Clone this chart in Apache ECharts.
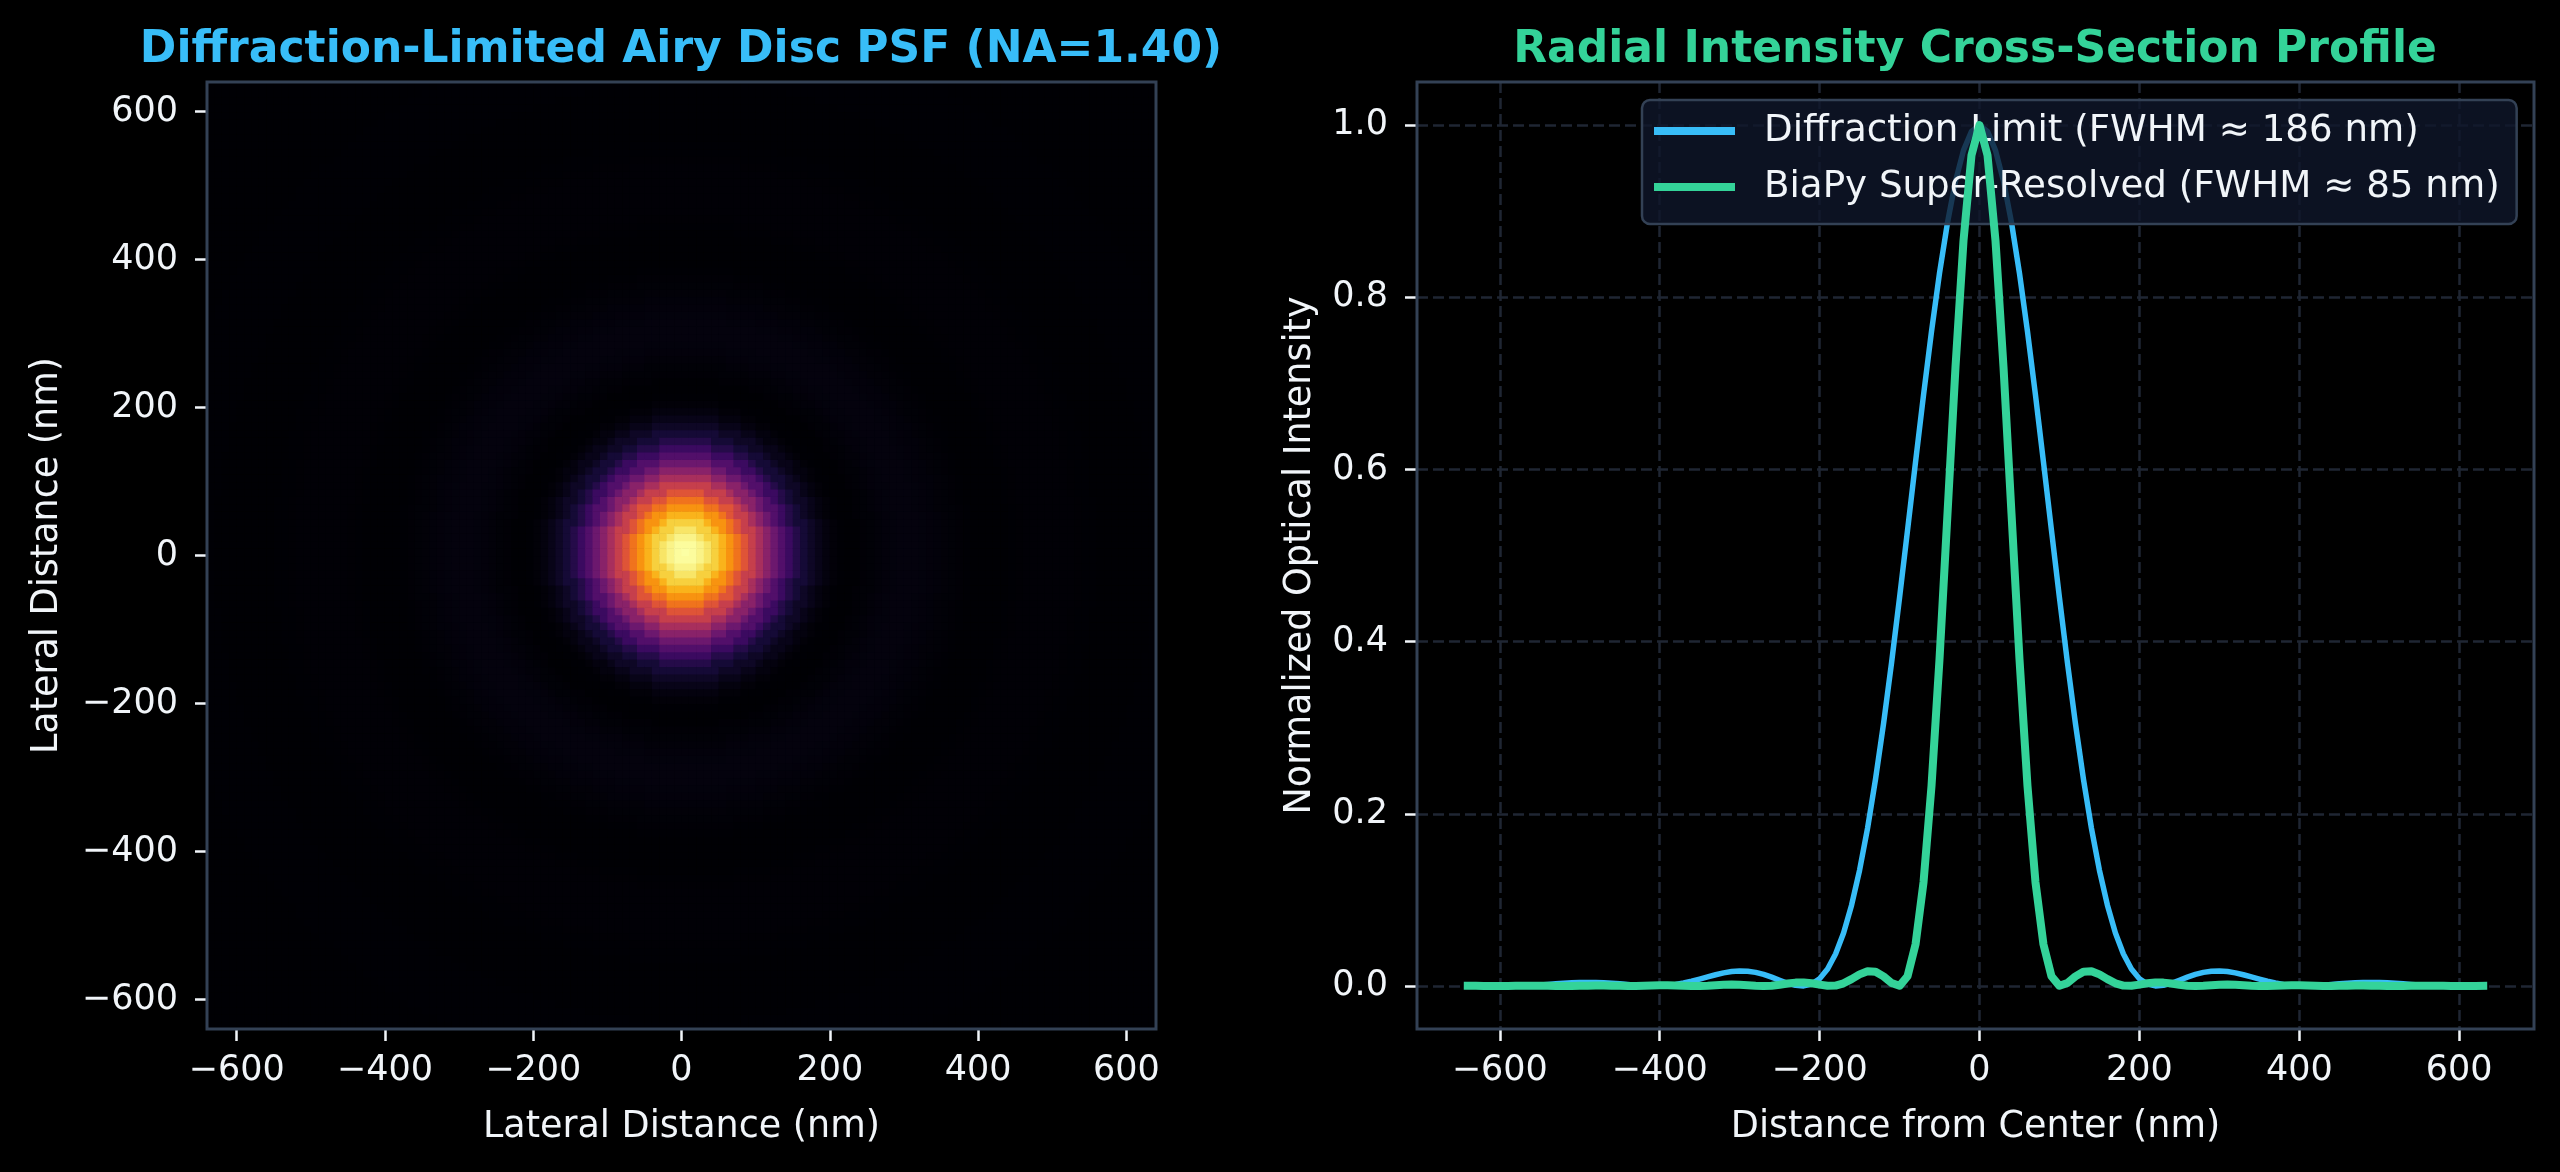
<!DOCTYPE html>
<html>
<head>
<meta charset="utf-8">
<script src="https://cdn.jsdelivr.net/npm/echarts@6/dist/echarts.min.js"></script>
<style>
html, body { margin: 0; padding: 0; background: #000000; }
#chart { width: 2560px; height: 1172px; }
</style>
</head>
<body>
<div id="chart"></div>
<script>
// ---------------- DATA ----------------
// Sample positions (nm) along the radial cross-section
const distanceNm = [-640,-630,-620,-610,-600,-590,-580,-570,-560,-550,-540,-530,-520,-510,-500,-490,-480,-470,-460,-450,-440,-430,-420,-410,-400,-390,-380,-370,-360,-350,-340,-330,-320,-310,-300,-290,-280,-270,-260,-250,-240,-230,-220,-210,-200,-190,-180,-170,-160,-150,-140,-130,-120,-110,-100,-90,-80,-70,-60,-50,-40,-30,-20,-10,0,10,20,30,40,50,60,70,80,90,100,110,120,130,140,150,160,170,180,190,200,210,220,230,240,250,260,270,280,290,300,310,320,330,340,350,360,370,380,390,400,410,420,430,440,450,460,470,480,490,500,510,520,530,540,550,560,570,580,590,600,610,620,630];

// Diffraction limit profile (FWHM ~ 186 nm)
const diffractionLimit = [
0.00109,0.00081,0.00052,0.00025,0.00008,0.00000,0.00007,0.00030,0.00068,0.00120,
0.00179,0.00245,0.00308,0.00360,0.00398,0.00415,0.00407,0.00375,0.00317,0.00246,
0.00170,0.00094,0.00034,0.00002,0.00011,0.00068,0.00178,0.00341,0.00551,0.00792,
0.01052,0.01304,0.01518,0.01672,0.01744,0.01718,0.01577,0.01338,0.01022,0.00660,
0.00319,0.00072,0.00006,0.00227,0.00844,0.01970,0.03712,0.06155,0.09379,0.13437,
0.18321,0.24033,0.30471,0.37539,0.45088,0.52934,0.60864,0.68645,0.76034,0.82786,
0.88674,0.93490,0.97062,0.99259,
1.00000,
0.99259,0.97062,0.93490,0.88674,0.82786,0.76034,0.68645,0.60864,0.52934,0.45088,
0.37539,0.30471,0.24033,0.18321,0.13437,0.09379,0.06155,0.03712,0.01970,0.00844,
0.00227,0.00006,0.00072,0.00319,0.00660,0.01022,0.01338,0.01577,0.01718,0.01744,
0.01672,0.01518,0.01304,0.01052,0.00792,0.00551,0.00341,0.00178,0.00068,0.00011,
0.00002,0.00034,0.00094,0.00170,0.00246,0.00317,0.00375,0.00407,0.00415,0.00398,
0.00360,0.00308,0.00245,0.00179,0.00120,0.00068,0.00030,0.00007,0.00000,0.00008,
0.00025,0.00052,0.00081];

// BiaPy super-resolved profile (FWHM ~ 85 nm)
const biapySuperResolved = [
0.00017,0.00014,0.00007,0.00001,0.00000,0.00005,0.00014,0.00023,0.00027,0.00023,
0.00014,0.00004,0.00000,0.00005,0.00018,0.00033,0.00043,0.00042,0.00029,0.00012,
0.00001,0.00003,0.00022,0.00048,0.00071,0.00077,0.00062,0.00033,0.00007,0.00001,
0.00027,0.00077,0.00130,0.00159,0.00146,0.00094,0.00032,0.00000,0.00034,0.00137,
0.00277,0.00388,0.00410,0.00313,0.00150,0.00016,0.00040,0.00305,0.00790,0.01344,
0.01711,0.01654,0.01108,0.00341,0.00016,0.01131,0.04829,0.12055,0.23257,0.37977,
0.54899,0.71927,0.86575,0.96492,
1.00000,
0.96492,0.86575,0.71927,0.54899,0.37977,0.23257,0.12055,0.04829,0.01131,0.00016,
0.00341,0.01108,0.01654,0.01711,0.01344,0.00790,0.00305,0.00040,0.00016,0.00150,
0.00313,0.00410,0.00388,0.00277,0.00137,0.00034,0.00000,0.00032,0.00094,0.00146,
0.00159,0.00130,0.00077,0.00027,0.00001,0.00007,0.00033,0.00062,0.00077,0.00071,
0.00048,0.00022,0.00003,0.00001,0.00012,0.00029,0.00042,0.00043,0.00033,0.00018,
0.00005,0.00000,0.00004,0.00014,0.00023,0.00027,0.00023,0.00014,0.00005,0.00000,
0.00001,0.00007,0.00014];

// Radial intensity of the diffraction-limited PSF image, radius 0..910 nm in 10 nm steps
const airyRadialProfile = [
1.00000,0.99259,0.97062,0.93490,0.88674,0.82786,0.76034,0.68645,0.60864,0.52934,
0.45088,0.37539,0.30471,0.24033,0.18321,0.13437,0.09379,0.06155,0.03712,0.01970,
0.00844,0.00227,0.00006,0.00072,0.00319,0.00660,0.01022,0.01338,0.01577,0.01718,
0.01744,0.01672,0.01518,0.01304,0.01052,0.00792,0.00551,0.00341,0.00178,0.00068,
0.00011,0.00002,0.00034,0.00094,0.00170,0.00246,0.00317,0.00375,0.00407,0.00415,
0.00398,0.00360,0.00308,0.00245,0.00179,0.00120,0.00068,0.00030,0.00007,0.00000,
0.00008,0.00025,0.00052,0.00081,0.00109,0.00134,0.00151,0.00159,0.00158,0.00148,
0.00130,0.00108,0.00082,0.00057,0.00034,0.00017,0.00005,0.00000,0.00002,0.00009,
0.00020,0.00034,0.00048,0.00061,0.00070,0.00076,0.00078,0.00075,0.00067,0.00057,
0.00045,0.00032];

// Image pixel positions (nm) of the PSF grid (lower-left corner of each pixel)
const imageGridNm = distanceNm;

const lateralTicks = [-600, -400, -200, 0, 200, 400, 600];
const intensityTicks = [0, 0.2, 0.4, 0.6, 0.8, 1.0];

const seriesNames = ['Diffraction Limit (FWHM \u2248 186 nm)', 'BiaPy Super-Resolved (FWHM \u2248 85 nm)'];
const titles = ['Diffraction-Limited Airy Disc PSF (NA=1.40)', 'Radial Intensity Cross-Section Profile'];

const infernoStops = ['#000004','#160b39','#420a68','#6a176e','#932667','#bc3754','#dd513a','#f37819','#fca50a','#f6d746','#fcffa4'];

// ---------------- BUILD ----------------
const PIXEL_NM = 10;
const psfCells = [];
imageGridNm.forEach(function (x) {
  imageGridNm.forEach(function (y) {
    const idx = Math.min(airyRadialProfile.length - 1, Math.round(Math.sqrt(x * x + y * y) / PIXEL_NM));
    psfCells.push([x, y, airyRadialProfile[idx]]);
  });
});
const diffData = distanceNm.map(function (d, i) { return [d, diffractionLimit[i]]; });
const biapyData = distanceNm.map(function (d, i) { return [d, biapySuperResolved[i]]; });

const FONT = 'DejaVu Sans';
const TEXT = '#f1f5f9';
const SPINE = '#334155';
const BLUE = '#38bdf8';
const GREEN = '#34d399';
const minusFmt = function (v) { return v < 0 ? '\u2212' + Math.abs(v) : String(v); };

const tickStyle = { show: true, length: 12, inside: false, lineStyle: { color: TEXT, width: 2.5 } };
const labelBase = { color: TEXT, fontSize: 35, fontFamily: FONT };
const nameStyle = { color: TEXT, fontSize: 36.5, fontFamily: FONT };
const noLine = { show: false, onZero: false };

const chart = echarts.init(document.getElementById('chart'), null, { renderer: 'canvas' });
chart.setOption({
  backgroundColor: '#000000',
  animation: false,
  title: [
    { text: titles[0], left: 681, top: 29, textAlign: 'center', padding: 0,
      textStyle: { color: BLUE, fontSize: 44, fontWeight: 'bold', fontFamily: FONT } },
    { text: titles[1], left: 1975, top: 29, textAlign: 'center', padding: 0,
      textStyle: { color: GREEN, fontSize: 44, fontWeight: 'bold', fontFamily: FONT } }
  ],
  grid: [
    { left: 207, top: 82, width: 949, height: 947, show: true, borderColor: SPINE, borderWidth: 3,
      backgroundColor: 'transparent', z: 10, containLabel: false, outerBoundsMode: 'none' },
    { left: 1417, top: 82, width: 1117, height: 947, show: true, borderColor: SPINE, borderWidth: 3,
      backgroundColor: 'transparent', z: 10, containLabel: false, outerBoundsMode: 'none' }
  ],
  xAxis: [
    { type: 'value', gridIndex: 0, min: -640, max: 640, position: 'bottom',
      axisLine: noLine, splitLine: { show: false },
      axisTick: Object.assign({ customValues: lateralTicks }, tickStyle),
      axisLabel: Object.assign({ customValues: lateralTicks, margin: 24, formatter: minusFmt }, labelBase),
      name: 'Lateral Distance (nm)', nameLocation: 'middle', nameGap: 80, nameMoveOverlap: false,
      nameTextStyle: nameStyle },
    { type: 'value', gridIndex: 1, min: -703.5, max: 693.5, position: 'bottom',
      axisLine: noLine,
      splitLine: { show: true, lineStyle: { color: '#1f2633', width: 2.5, type: [11, 5] } },
      axisTick: Object.assign({ customValues: lateralTicks }, tickStyle),
      axisLabel: Object.assign({ customValues: lateralTicks, margin: 24, formatter: minusFmt }, labelBase),
      name: 'Distance from Center (nm)', nameLocation: 'middle', nameGap: 80, nameMoveOverlap: false,
      nameTextStyle: nameStyle }
  ],
  yAxis: [
    { type: 'value', gridIndex: 0, min: -640, max: 640, position: 'left',
      axisLine: noLine, splitLine: { show: false },
      axisTick: Object.assign({ customValues: lateralTicks }, tickStyle),
      axisLabel: Object.assign({ customValues: lateralTicks, margin: 29, formatter: minusFmt }, labelBase),
      name: 'Lateral Distance (nm)', nameLocation: 'middle', nameRotate: 90, nameGap: 141, nameMoveOverlap: false,
      nameTextStyle: nameStyle },
    { type: 'value', gridIndex: 1, min: -0.05, max: 1.05, position: 'left',
      axisLine: noLine,
      splitLine: { show: true, lineStyle: { color: '#1f2633', width: 2.5, type: [11, 5] } },
      axisTick: Object.assign({ customValues: intensityTicks }, tickStyle),
      axisLabel: Object.assign({ customValues: intensityTicks, margin: 29,
        formatter: function (v) { return v.toFixed(1); } }, labelBase),
      name: 'Normalized Optical Intensity', nameLocation: 'middle', nameRotate: 90, nameGap: 98, nameMoveOverlap: false,
      nameTextStyle: nameStyle }
  ],
  visualMap: {
    type: 'continuous', show: false, min: 0, max: 1, dimension: 2, seriesIndex: 0,
    inRange: { color: infernoStops }
  },
  legend: {
    orient: 'vertical', left: 1642, top: 100,
    data: [
      { name: seriesNames[0], icon: 'rect', itemStyle: { color: BLUE } },
      { name: seriesNames[1], icon: 'rect', itemStyle: { color: GREEN } }
    ],
    itemWidth: 81, itemHeight: 8, itemGap: 16,
    padding: [11, 17, 17, 12],
    backgroundColor: 'rgba(15,23,42,0.8)', borderColor: SPINE, borderWidth: 2.5, borderRadius: 8,
    textStyle: { color: TEXT, fontSize: 37.2, fontFamily: FONT, lineHeight: 40, padding: [0, 0, 0, 24] }
  },
  series: [
    {
      type: 'custom', xAxisIndex: 0, yAxisIndex: 0, data: psfCells, clip: true,
      progressive: 0, silent: true, z: 1,
      encode: { x: 0, y: 1 },
      renderItem: function (params, api) {
        const x = api.value(0), y = api.value(1);
        const a = api.coord([x, y + PIXEL_NM]);
        const b = api.coord([x + PIXEL_NM, y]);
        return { type: 'rect',
          shape: { x: a[0], y: a[1], width: b[0] - a[0] + 0.6, height: b[1] - a[1] + 0.6 },
          style: { fill: api.visual('color') } };
      }
    },
    {
      name: seriesNames[0], type: 'line', xAxisIndex: 1, yAxisIndex: 1, data: diffData,
      showSymbol: false, symbol: 'none', smooth: false, z: 3,
      lineStyle: { color: BLUE, width: 5.5, cap: 'square', join: 'round' },
      itemStyle: { color: BLUE }
    },
    {
      name: seriesNames[1], type: 'line', xAxisIndex: 1, yAxisIndex: 1, data: biapyData,
      showSymbol: false, symbol: 'none', smooth: false, z: 4,
      lineStyle: { color: GREEN, width: 8, cap: 'square', join: 'round' },
      itemStyle: { color: GREEN }
    }
  ]
});
</script>
</body>
</html>
